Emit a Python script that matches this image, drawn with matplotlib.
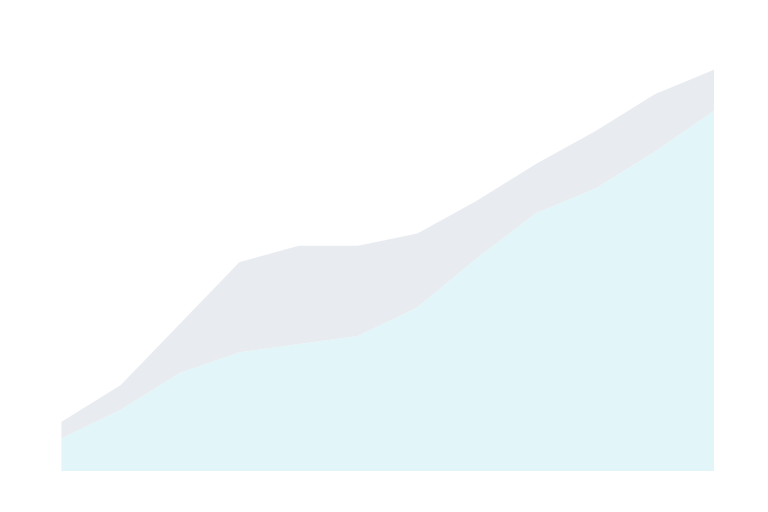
import matplotlib
matplotlib.use("Agg")
import matplotlib.pyplot as plt

periods = list(range(12))
base_series = [8, 15, 24, 29, 31, 33, 40, 52, 63, 69, 78, 88]
top_series = [4, 6, 12, 22, 24, 22, 18, 14, 12, 14, 14, 10]

fig, ax = plt.subplots(figsize=(7.68, 5.12), dpi=100)
fig.subplots_adjust(left=0.08, right=0.93, top=0.88, bottom=0.08)

ax.stackplot(periods, base_series, top_series,
             colors=["#e2f6f9", "#e8ebf0"], linewidth=0)

ax.set_xlim(periods[0], periods[-1])
ax.set_ylim(0, 100)
for side in ax.spines.values():
    side.set_visible(False)
ax.set_xticks([])
ax.set_yticks([])

plt.savefig("out.png", dpi=100)
